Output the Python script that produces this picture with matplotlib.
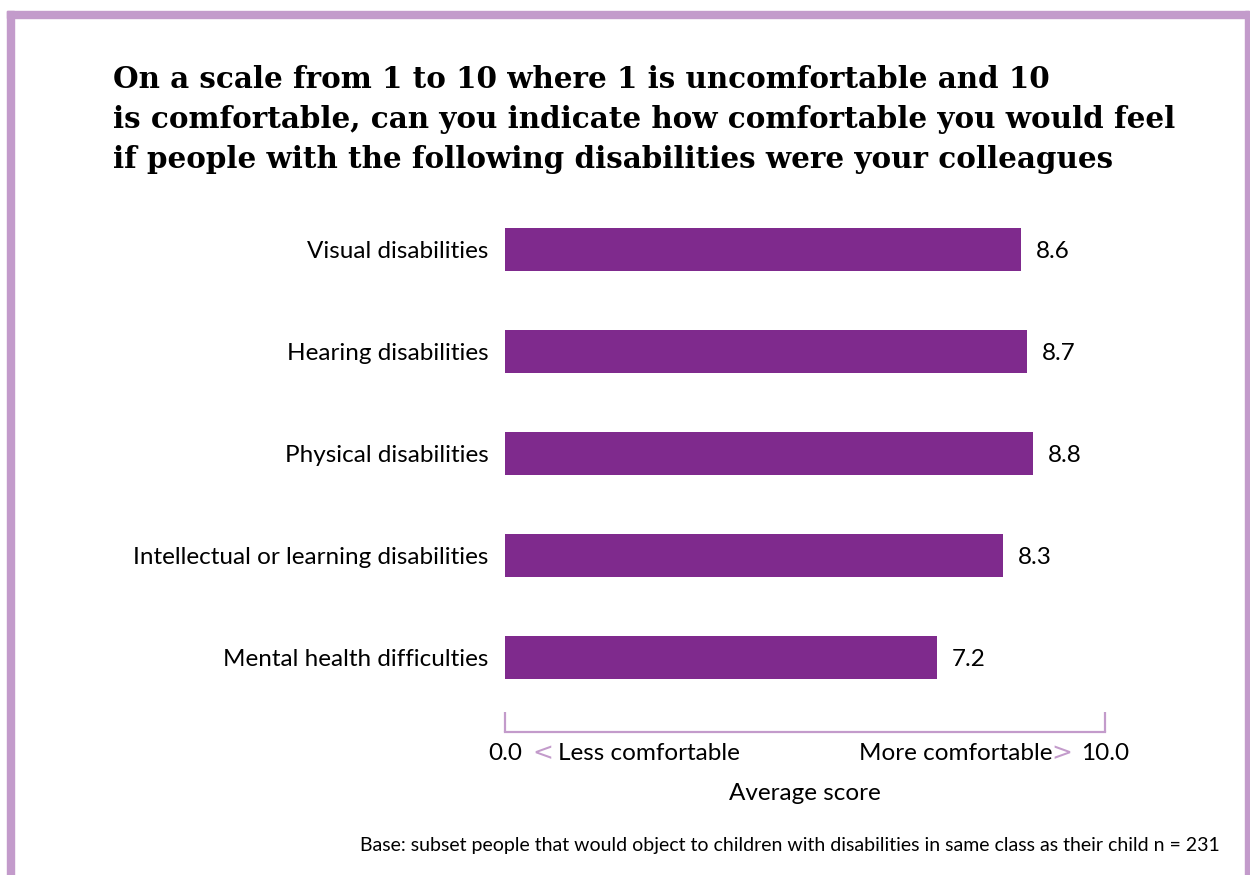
import matplotlib
matplotlib.use('Agg')
import matplotlib.pyplot as plt
from matplotlib.patches import Rectangle
import numpy as np

categories = ['Visual disabilities', 'Hearing disabilities', 'Physical disabilities',
              'Intellectual or learning disabilities', 'Mental health difficulties']
scores = [8.6, 8.7, 8.8, 8.3, 7.2]
score_min, score_max = 0.0, 10.0

title = ('On a scale from 1 to 10 where 1 is uncomfortable and 10\n'
         'is comfortable, can you indicate how comfortable you would feel\n'
         'if people with the following disabilities were your colleagues')
footnote = ('Base: subset people that would object to children with disabilities '
            'in same class as their child n = 231')

bar_color = '#7F2A8D'
frame_color = '#C39BCB'
body_font = 'Lato'
fs = 17.5

W, H = 1250, 875
fig = plt.figure(figsize=(W / 100, H / 100), dpi=100)

# purple frame: thick left and top, thin right, open at the bottom
fig.patches.append(Rectangle((7 / W, 0), 7 / W, 1 - 11 / H, transform=fig.transFigure,
                             color=frame_color, zorder=0))
fig.patches.append(Rectangle((7 / W, 1 - 18 / H), (1249 - 7) / W, 7 / H,
                             transform=fig.transFigure, color=frame_color, zorder=0))
fig.patches.append(Rectangle((1245 / W, 0), 4 / W, 1 - 11 / H, transform=fig.transFigure,
                             color=frame_color, zorder=0))

fig.text(113 / W, 1 - 65 / H, title, ha='left', va='top', fontsize=21.2,
         fontweight='bold', family='DejaVu Serif', linespacing=1.47, color='black')

# axes: x from 505 to 1105 px, bottom spine sits at y=732 px
x0, x1 = 505, 1105
ytop, ybot = 198, 732
ax = fig.add_axes([x0 / W, 1 - ybot / H, (x1 - x0) / W, (ybot - ytop) / H])
ypos = np.arange(len(categories))
step = 102.0
ax.barh(ypos, scores, height=43 / step, color=bar_color)
ax.set_xlim(score_min, score_max)
ax.set_ylim(4 + (ybot - 657) / step, -0.5)

for s in ['top', 'right', 'left']:
    ax.spines[s].set_visible(False)
ax.spines['bottom'].set_color(frame_color)
ax.spines['bottom'].set_linewidth(1.6)
ax.set_xticks([score_min, score_max])
ax.tick_params(axis='x', direction='in', length=14.4, width=1.6, color=frame_color,
               labelbottom=False)
ax.set_yticks(ypos)
ax.set_yticklabels(categories, fontsize=fs, family=body_font)
ax.tick_params(axis='y', length=0, pad=12)

for y, v in zip(ypos, scores):
    ax.text(v + 0.25, y + 0.02, f'{v:.1f}', va='center', ha='left', fontsize=fs,
            family=body_font)

tr = ax.get_xaxis_transform()
ly = -21 / (ybot - ytop)
ax.text(score_min, ly, f'{score_min:.1f}', transform=tr, ha='center', va='center',
        fontsize=fs, family=body_font)
ax.text(score_max, ly, f'{score_max:.1f}', transform=tr, ha='center', va='center',
        fontsize=fs, family=body_font)
ax.text(0.63, ly, '<', transform=tr, ha='center', va='center', fontsize=18,
        family='DejaVu Sans', color=frame_color)
ax.text(0.88, ly, 'Less comfortable', transform=tr, ha='left', va='center',
        fontsize=fs, family=body_font)
ax.text(9.13, ly, 'More comfortable', transform=tr, ha='right', va='center',
        fontsize=fs, family=body_font)
ax.text(9.28, ly, '>', transform=tr, ha='center', va='center', fontsize=18,
        family='DejaVu Sans', color=frame_color)
ax.text(5.0, -62 / (ybot - ytop), 'Average score', transform=tr, ha='center',
        va='center', fontsize=fs, family=body_font)

fig.text(1220 / W, 1 - 845 / H, footnote, ha='right', va='center', fontsize=14,
         family=body_font)

fig.savefig('out.png', dpi=100)
